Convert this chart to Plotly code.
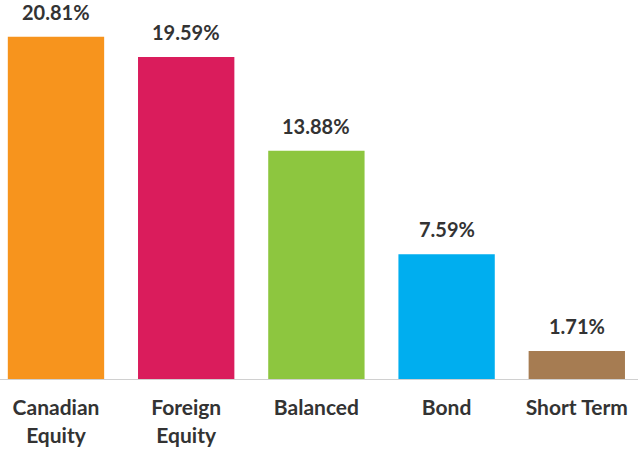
import plotly.graph_objects as go

categories = ["Canadian<br>Equity", "Foreign<br>Equity", "Balanced", "Bond", "Short Term"]
values = [20.81, 19.59, 13.88, 7.59, 1.71]
colors = ["#F7941D", "#DA1C5C", "#8DC63F", "#00AEEF", "#A67C52"]
labels = [f"{v:.2f}%" for v in values]

fig = go.Figure(go.Bar(
    x=categories, y=values, marker=dict(color=colors, line=dict(width=0)),
    width=0.74, hoverinfo="skip",
))
for c, v, t in zip(categories, values, labels):
    fig.add_annotation(x=c, y=v, text=f"<b>{t}</b>", showarrow=False,
                       yanchor="bottom", yshift=11,
                       font=dict(family="Lato", size=20, color="#333333"))

fig.update_layout(
    width=638, height=449,
    margin=dict(l=0, r=0, t=0, b=70),
    plot_bgcolor="white", paper_bgcolor="white",
    showlegend=False,
    xaxis=dict(range=[-0.43, 4.47], showline=True, linecolor="#d0d0d0", linewidth=1,
               tickfont=dict(family="Lato", size=21, color="#333333"),
               ticks="", ticklabelstandoff=10, fixedrange=True, automargin=False),
    yaxis=dict(range=[0, 23.05], visible=False, fixedrange=True),
)
fig.update_xaxes(tickvals=categories, ticktext=[f"<b>{c}</b>" for c in categories])
fig.write_html("out.html", config={"displayModeBar": False},
               post_script="document.body.style.margin='0';document.body.style.overflow='hidden';")
